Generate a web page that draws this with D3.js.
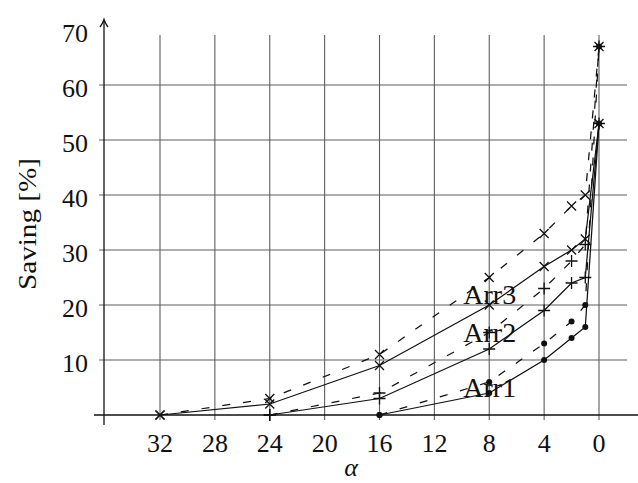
<!DOCTYPE html>
<html>
<head>
<meta charset="utf-8">
<script src="https://cdn.jsdelivr.net/npm/d3@7/dist/d3.min.js"></script>
<style>
  html, body { margin: 0; padding: 0; background: #fff; }
  svg { display: block; }
  text { font-family: "Liberation Serif", "Times New Roman", serif; fill: #111; }
</style>
</head>
<body>
<svg id="chart" width="638" height="483"></svg>
<script>
// ---------- data ----------
const alphas = [32, 24, 16, 8, 4, 2, 1, 0];
const arr1Solid  = [null, null, 0, 4, 10, 14, 16, 53];
const arr1Dashed = [null, null, 0, 6, 13, 17, 20, 67];
const arr2Solid  = [null, 0, 3, 12, 19, 24, 25, 53];
const arr2Dashed = [null, 0, 4, 15, 23, 28, 31, 67];
const arr3Solid  = [0, 2, 9, 20, 27, 30, 32, 53];
const arr3Dashed = [0, 3, 11, 25, 33, 38, 40, 67];
const xTicks = [32, 28, 24, 20, 16, 12, 8, 4, 0];
const yTicks = [10, 20, 30, 40, 50, 60, 70];
const yGrid  = [10, 20, 30, 40, 50, 60];
const seriesNames = ["Arr1", "Arr2", "Arr3"];
const labelAnchors = [[8, 5], [8, 15], [8, 22]]; // (alpha, saving) where names sit

// ---------- layout ----------
const svg = d3.select("#chart");
const x = d3.scaleLinear().domain([32, 0]).range([160, 599]);
const y = d3.scaleLinear().domain([0, 70]).range([415, 30]);
const axisX = 104, axisY = 415;
const gridTop = 35;

// grid
const grid = svg.append("g").attr("stroke", "#5e5e5e").attr("stroke-width", 1.1);
grid.selectAll("line.v").data(xTicks).join("line")
  .attr("x1", d => x(d)).attr("x2", d => x(d))
  .attr("y1", gridTop).attr("y2", axisY + 5);
grid.selectAll("line.h").data(yGrid).join("line")
  .attr("x1", axisX - 5).attr("x2", 627)
  .attr("y1", d => y(d)).attr("y2", d => y(d));

// axes
const ax = svg.append("g").attr("stroke", "#111").attr("stroke-width", 1.3).attr("fill", "none");
ax.append("line").attr("x1", axisX).attr("x2", axisX).attr("y1", 425).attr("y2", 20);
ax.append("path").attr("d", `M${axisX-4},${27} Q${axisX-1},${23} ${axisX},${19.5} Q${axisX+1},${23} ${axisX+4},${27}`);
ax.append("line").attr("x1", 94).attr("x2", 638).attr("y1", axisY).attr("y2", axisY);

// tick labels
svg.append("g").selectAll("text").data(xTicks).join("text")
  .attr("x", d => x(d)).attr("y", 451.5)
  .attr("text-anchor", "middle").attr("font-size", 26)
  .text(d => d);
svg.append("g").selectAll("text").data(yTicks).join("text")
  .attr("x", 88).attr("y", d => y(d) + 12)
  .attr("text-anchor", "end").attr("font-size", 26)
  .text(d => d);

// axis titles
svg.append("text")
  .attr("transform", "translate(36,224) rotate(-90)")
  .attr("text-anchor", "middle").attr("font-size", 26)
  .attr("textLength", 132).attr("lengthAdjust", "spacingAndGlyphs")
  .text("Saving [%]");
svg.append("text")
  .attr("x", 351).attr("y", 476)
  .attr("text-anchor", "middle").attr("font-size", 26).attr("font-style", "italic")
  .text("α");

// ---------- series ----------
const series = [
  { vals: arr1Solid,  dash: null,   marker: "dot" },
  { vals: arr1Dashed, dash: "8,13", marker: "dot" },
  { vals: arr2Solid,  dash: null,   marker: "plus" },
  { vals: arr2Dashed, dash: "8,13", marker: "plus" },
  { vals: arr3Solid,  dash: null,   marker: "cross" },
  { vals: arr3Dashed, dash: "8,13", marker: "cross" }
];
const line = d3.line()
  .defined(d => d.v != null)
  .x(d => x(d.a)).y(d => y(d.v));

const plot = svg.append("g");
series.forEach(s => {
  const pts = alphas.map((a, i) => ({ a, v: s.vals[i] }));
  plot.append("path").datum(pts)
    .attr("d", line).attr("fill", "none")
    .attr("stroke", "#111").attr("stroke-width", 1.25)
    .attr("stroke-dasharray", s.dash);
  const valid = pts.filter(d => d.v != null);
  const g = plot.append("g");
  if (s.marker === "dot") {
    g.selectAll("circle").data(valid).join("circle")
      .attr("cx", d => x(d.a)).attr("cy", d => y(d.v))
      .attr("r", 3).attr("fill", "#111");
  } else {
    const p = s.marker === "plus"
      ? "M-6,0H6M0,-6V6"
      : "M-4.5,-4.5L4.5,4.5M-4.5,4.5L4.5,-4.5";
    g.selectAll("path").data(valid).join("path")
      .attr("transform", d => `translate(${x(d.a)},${y(d.v)})`)
      .attr("d", p).attr("fill", "none")
      .attr("stroke", "#111").attr("stroke-width", 1.3);
  }
});

// series names
svg.append("g").selectAll("text").data(seriesNames).join("text")
  .attr("x", (d, i) => x(labelAnchors[i][0]) + 0.5)
  .attr("y", (d, i) => y(labelAnchors[i][1]) + 9.5)
  .attr("text-anchor", "middle").attr("font-size", 28)
  .text(d => d);
</script>
</body>
</html>
